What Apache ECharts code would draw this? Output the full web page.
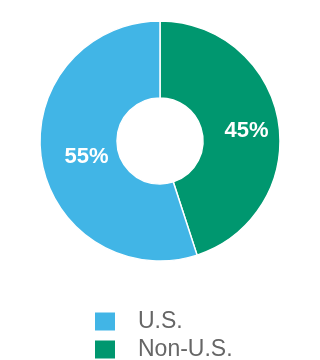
<!DOCTYPE html>
<html>
<head>
<meta charset="utf-8">
<script src="https://cdn.jsdelivr.net/npm/echarts@6/dist/echarts.min.js"></script>
<style>html,body{margin:0;padding:0;background:#fff}#c{width:320px;height:360px}</style>
</head>
<body>
<div id="c"></div>
<script>
const categories = ['Non-U.S.', 'U.S.'];
const values = [45, 55];
const legendOrder = ['U.S.', 'Non-U.S.'];
const colors = { 'U.S.': '#41b5e6', 'Non-U.S.': '#00976f' };
const labelOffsets = { 'U.S.': [10, 3], 'Non-U.S.': [3, 3] };

const chart = echarts.init(document.getElementById('c'), null, { renderer: 'canvas' });
chart.setOption({
  animation: false,
  legend: legendOrder.map((name, i) => ({
    data: [name],
    orient: 'vertical',
    left: 93,
    top: 310 + i * 28,
    padding: 0,
    itemWidth: 22,
    itemHeight: 20,
    icon: 'rect',
    selectedMode: false,
    textStyle: { fontFamily: 'Liberation Sans', fontSize: 23, color: '#666', padding: [0, 0, 0, 17] }
  })),
  series: [{
    type: 'pie',
    center: [160, 141],
    radius: [43, 120],
    startAngle: 90,
    clockwise: true,
    silent: true,
    itemStyle: { borderColor: '#fff', borderWidth: 1.5 },
    label: {
      show: true,
      position: 'inside',
      formatter: '{c}%',
      color: '#fff',
      fontFamily: 'Liberation Sans',
      fontWeight: 'bold',
      fontSize: 22
    },
    labelLine: { show: false },
    data: categories.map((name, i) => ({
      name,
      value: values[i],
      itemStyle: { color: colors[name] },
      label: { offset: labelOffsets[name] }
    }))
  }]
});
</script>
</body>
</html>
